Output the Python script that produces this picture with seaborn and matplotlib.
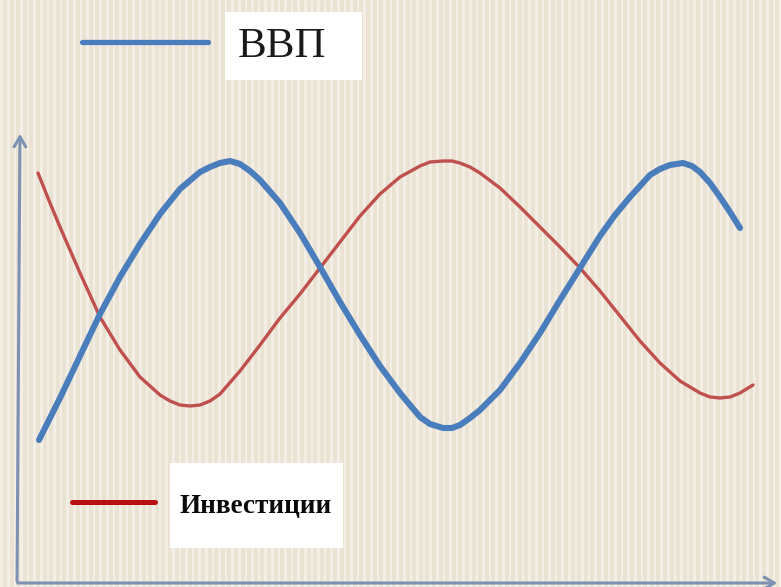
import numpy as np
import pandas as pd
import seaborn as sns
import matplotlib
matplotlib.use("Agg")
import matplotlib.pyplot as plt
from matplotlib.patches import Rectangle
from matplotlib.lines import Line2D

# ---- data (schematic levels) ----
gdp_label = "ВВП"
inv_label = "Инвестиции"

gdp_x = [39, 60, 80, 100, 120, 140, 160, 180, 200, 210, 220, 230, 240, 250, 260, 280,
         300, 320, 340, 360, 380, 400, 420, 430, 443, 452, 460, 470, 480, 500, 520, 540,
         560, 580, 600, 615, 630, 650, 660, 670, 683, 692, 700, 710, 720, 730, 740]
gdp_py = [440, 398, 356, 314, 277, 244, 214, 189, 172, 167, 163, 161, 164, 171, 180, 203,
          233, 267, 302, 335, 366, 393, 417, 424, 428, 428, 425, 418, 410, 390, 363, 333,
          300, 268, 236, 215, 197, 175, 169, 165, 163, 166, 172, 183, 197, 212, 228]
gdp_y = [587 - v for v in gdp_py]

inv_x = [38, 50, 60, 80, 100, 120, 140, 160, 170, 180, 190, 200, 210, 220, 240, 260,
         280, 300, 320, 340, 360, 380, 400, 420, 430, 443, 452, 460, 470, 480, 500, 520,
         540, 560, 580, 600, 620, 640, 660, 680, 700, 710, 720, 730, 740, 753]
inv_py = [173, 203, 227, 273, 317, 350, 377, 395, 401, 405, 406, 405, 401, 394, 371, 345,
          318, 294, 268, 242, 216, 194, 177, 166, 162, 161, 161, 163, 167, 173, 188, 207,
          227, 247, 268, 291, 316, 341, 363, 381, 393, 397, 398, 397, 393, 385]
inv_y = [587 - v for v in inv_py]

df = pd.concat([
    pd.DataFrame({"t": gdp_x, "level": gdp_y, "series": gdp_label}),
    pd.DataFrame({"t": inv_x, "level": inv_y, "series": inv_label}),
], ignore_index=True)

W, H = 781, 587
BLUE = "#4a7dbb"
RED = "#c0504d"
LEG_RED = "#b81010"
AXIS = "#7d91b2"

sns.set_theme(style="white")
fig = plt.figure(figsize=(W / 100, H / 100), dpi=100)

# striped background
bg = fig.add_axes([0, 0, 1, 1], zorder=0)
cols = np.arange(W)
phase = np.mod(cols, 6.6)
base = np.array([0xea, 0xe3, 0xd4]) / 255
light = np.array([0xf3, 0xef, 0xe6]) / 255
row = np.where((phase < 2.6)[:, None], light, base)
img = np.repeat(row[None, :, :], 2, axis=0)
bg.imshow(img, aspect="auto", extent=[0, 1, 0, 1], interpolation="nearest")
bg.set_axis_off()

ax = fig.add_axes([0, 0, 1, 1], zorder=1)
ax.set_facecolor("none")
sns.lineplot(data=df, x="t", y="level", hue="series", sort=False,
             palette={gdp_label: BLUE, inv_label: RED}, ax=ax, legend=False,
             estimator=None)
for ln in ax.get_lines():
    ln.set_solid_joinstyle("round")
    ln.set_solid_capstyle("round")
    if matplotlib.colors.to_hex(ln.get_color()) == BLUE:
        ln.set_linewidth(4.4)
        ln.set_zorder(3)
    else:
        ln.set_linewidth(2.4)
        ln.set_zorder(2)
ax.set_xlim(0, W)
ax.set_ylim(0, H)
ax.set_axis_off()

# axes arrows
ax.annotate("", xy=(20, 456), xytext=(17, 3),
            arrowprops=dict(arrowstyle="->,head_length=0.6,head_width=0.35", color=AXIS, lw=2.2))
ax.annotate("", xy=(780, 4), xytext=(15, 4),
            arrowprops=dict(arrowstyle="->,head_length=0.6,head_width=0.35", color=AXIS, lw=2.2))


def fp(x, y):
    return (x / W, 1 - y / H)


# legend: ВВП
fig.add_artist(Line2D([82 / W, 208 / W], [1 - 42 / H, 1 - 42 / H], color=BLUE, lw=3.8,
                      transform=fig.transFigure, zorder=5))
fig.add_artist(Rectangle(fp(225, 80), 137 / W, 68 / H, transform=fig.transFigure,
                         facecolor="white", edgecolor="none", zorder=5))
fig.text(*fp(282, 47), gdp_label, ha="center", va="center", fontsize=31,
         family="Liberation Serif", color="#1a1a1a", zorder=6)

# legend: Инвестиции
fig.add_artist(Line2D([72 / W, 155 / W], [1 - 502 / H, 1 - 502 / H], color=LEG_RED, lw=3.6,
                      solid_capstyle="round", transform=fig.transFigure, zorder=5))
fig.add_artist(Rectangle(fp(170, 548), 173 / W, 85 / H, transform=fig.transFigure,
                         facecolor="white", edgecolor="none", zorder=5))
fig.text(*fp(256, 507), inv_label, ha="center", va="center", fontsize=19.5,
         family="Liberation Serif", fontweight="bold", color="#0a0a0a", zorder=6)

fig.savefig("out.png", dpi=100)
